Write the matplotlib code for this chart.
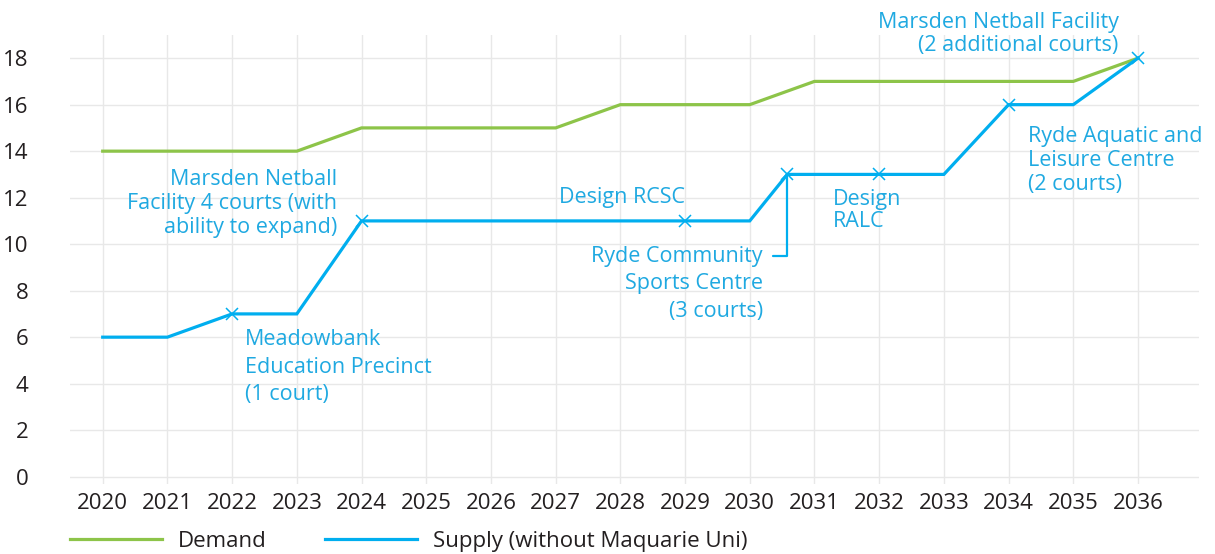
import matplotlib.pyplot as plt

# Netball courts: demand vs supply
anos = list(range(2020, 2037))
demanda = [14, 14, 14, 14, 15, 15, 15, 15, 16, 16, 16, 17, 17, 17, 17, 17, 18]

anos_oferta = [2020, 2021, 2022, 2023, 2024, 2025, 2026, 2027, 2028, 2029, 2030, 2030.58,
               2031, 2032, 2033, 2034, 2035, 2036]
oferta = [6, 6, 7, 7, 11, 11, 11, 11, 11, 11, 11, 13, 13, 13, 13, 16, 16, 18]

# points marked with an x on the supply line
anos_marcados = [2022, 2024, 2029, 2030.58, 2032, 2034, 2036]
oferta_marcada = [7, 11, 11, 13, 13, 16, 18]

verde = '#8dc449'
azul = '#00aeef'
texto_azul = '#1fa9e1'
cinza = '#231f20'

plt.rcParams['font.family'] = ['Open Sans', 'DejaVu Sans']

fig = plt.figure(figsize=(12.15, 5.54), dpi=100)
ax = fig.add_axes([0.0579, 0.127, 0.9293, 0.810])

ax.plot(anos, demanda, color=verde, lw=2.3, solid_joinstyle='miter', label='Demand')
ax.plot(anos_oferta, oferta, color=azul, lw=2.3, solid_joinstyle='miter',
        label='Supply (without Maquarie Uni)')
ax.plot(anos_marcados, oferta_marcada, ls='none', marker='x', ms=8, mew=1.1, color=azul)

ax.set_xlim(2019.5, 2036.95)
ax.set_ylim(-0.3, 19)
ax.set_xticks(anos)
ax.set_yticks(range(0, 19, 2))
ax.grid(True, color='#e8e8e8', lw=1)
ax.set_axisbelow(True)
for s in ax.spines.values():
    s.set_visible(False)
ax.tick_params(length=0, labelsize=16, labelcolor=cinza)
ax.tick_params(axis='y', pad=30)
ax.tick_params(axis='x', pad=7)

fs = 15.5
ax.text(2023.62, 11.76, 'Marsden Netball\nFacility 4 courts (with\nability to expand)',
        ha='right', va='center', color=texto_azul, fontsize=fs, linespacing=1.19)
ax.text(2022.2, 4.7, 'Meadowbank\nEducation Precinct\n(1 court)',
        ha='left', va='center', color=texto_azul, fontsize=fs, linespacing=1.4)
ax.text(2029.0, 12.0, 'Design RCSC', ha='right', va='center', color=texto_azul, fontsize=fs)
ax.annotate('Ryde Community\nSports Centre\n(3 courts)', xy=(2030.58, 13), xytext=(2030.2, 8.3),
            ha='right', va='center', color=texto_azul, fontsize=fs, linespacing=1.4,
            arrowprops=dict(arrowstyle='-', color=azul, lw=1.6, shrinkA=0, shrinkB=0,
                            relpos=(1.06, 0.86),
                            connectionstyle='angle,angleA=0,angleB=90,rad=0'))
ax.text(2031.29, 11.46, 'Design\nRALC', ha='left', va='center', color=texto_azul,
        fontsize=fs, linespacing=1.08)
ax.text(2035.7, 19.05, 'Marsden Netball Facility\n(2 additional courts)', ha='right',
        va='center', color=texto_azul, fontsize=fs, linespacing=1.1, clip_on=False)
ax.text(2034.3, 13.6, 'Ryde Aquatic and\nLeisure Centre\n(2 courts)', ha='left', va='center',
        color=texto_azul, fontsize=fs, linespacing=1.17)

fig.legend(loc='center left', bbox_to_anchor=(0.0576, 0.023), ncol=2, frameon=False,
           fontsize=16, handlelength=4.14, handletextpad=0.72, columnspacing=2.62,
           borderpad=0, borderaxespad=0, labelcolor=cinza)

fig.savefig('out.png', dpi=100)
